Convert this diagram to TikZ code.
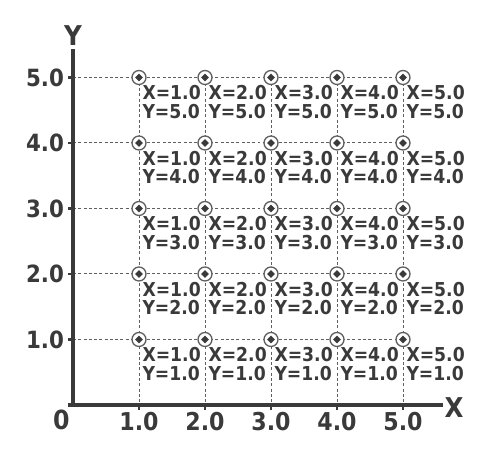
\documentclass[tikz,border=0pt]{standalone}
\usepackage{fontspec}
\setmainfont{DejaVu Sans Condensed}
\usetikzlibrary{positioning}
\definecolor{Ink}{RGB}{58,58,58}
\definecolor{Grid}{RGB}{95,95,95}

\begin{document}
\begin{tikzpicture}[
    x=1.32cm,
    y=1.31cm,
    Ink,
    axis/.style={line width=1.9pt},
    guide/.style={Grid, line width=0.55pt, dash pattern=on 1.7pt off 1.3pt},
    point/.style={circle, draw=Grid, fill=white, line width=0.75pt, minimum size=0.28cm, inner sep=0pt},
    coordtext/.style={anchor=north west, inner sep=0pt, align=left, font=\bfseries\fontsize{10.9}{10.5}\selectfont},
    ticktext/.style={inner sep=0pt, font=\bfseries\fontsize{13.5}{13.5}\selectfont},
    axistext/.style={inner sep=0pt, font=\bfseries\fontsize{15.5}{15.5}\selectfont}
]
  \useasboundingbox (-1.106,-0.809) rectangle (6.485,6.183);

  \coordinate (O) at (0,0);
  \coordinate (xend) at (5.6,0);
  \coordinate (yend) at (0,5.43);

  \foreach \k in {1,...,5} {
    \coordinate (xt-\k) at (\k,0);
    \coordinate (yt-\k) at (0,\k);
  }

  % grid points
  \foreach \i in {1,...,5} {
    \foreach \j in {1,...,5} {
      \coordinate (c-\i-\j) at (\i,\j);
    }
  }

  % dashed guides
  \foreach \k in {1,...,5} {
    \draw[guide] (yt-\k) -- (c-5-\k);
    \draw[guide] (c-\k-5) -- (xt-\k);
  }

  % axes
  \draw[axis] (-0.07,0) -- (xend);
  \draw[axis] (O) -- (yend);
  \foreach \k in {1,...,5} {
    \draw[line width=1.3pt] (yt-\k) -- ++(-0.08,0);
    \draw[line width=1.3pt] (xt-\k) -- ++(0,-0.08);
    \node[ticktext, left=5pt of yt-\k] (ylab-\k) {\k.0};
    \node[ticktext, font=\bfseries\fontsize{14}{14}\selectfont, below=4pt of xt-\k] (xlab-\k) {\k.0};
  }
  \node[ticktext, font=\bfseries\fontsize{15}{15}\selectfont, anchor=north east] (zero) at ([xshift=-1.7pt,yshift=-2.8pt]O) {0};
  \node[axistext, above=2pt of yend] (ylabel) {Y};
  \node[axistext, anchor=west] (xlabel) at ([xshift=1pt,yshift=-1.5pt]xend) {X};

  % markers and labels
  \foreach \i in {1,...,5} {
    \foreach \j in {1,...,5} {
      \node[point] (p-\i-\j) at (c-\i-\j) {};
      \fill (p-\i-\j.center) +(0.06,0) -- +(0,0.06) -- +(-0.06,0) -- +(0,-0.06) -- cycle;
      \node[coordtext] (l-\i-\j) at ([xshift=1.8pt,yshift=-4.5pt]p-\i-\j.center) {X=\i.0\\Y=\j.0};
    }
  }
\end{tikzpicture}
\end{document}
